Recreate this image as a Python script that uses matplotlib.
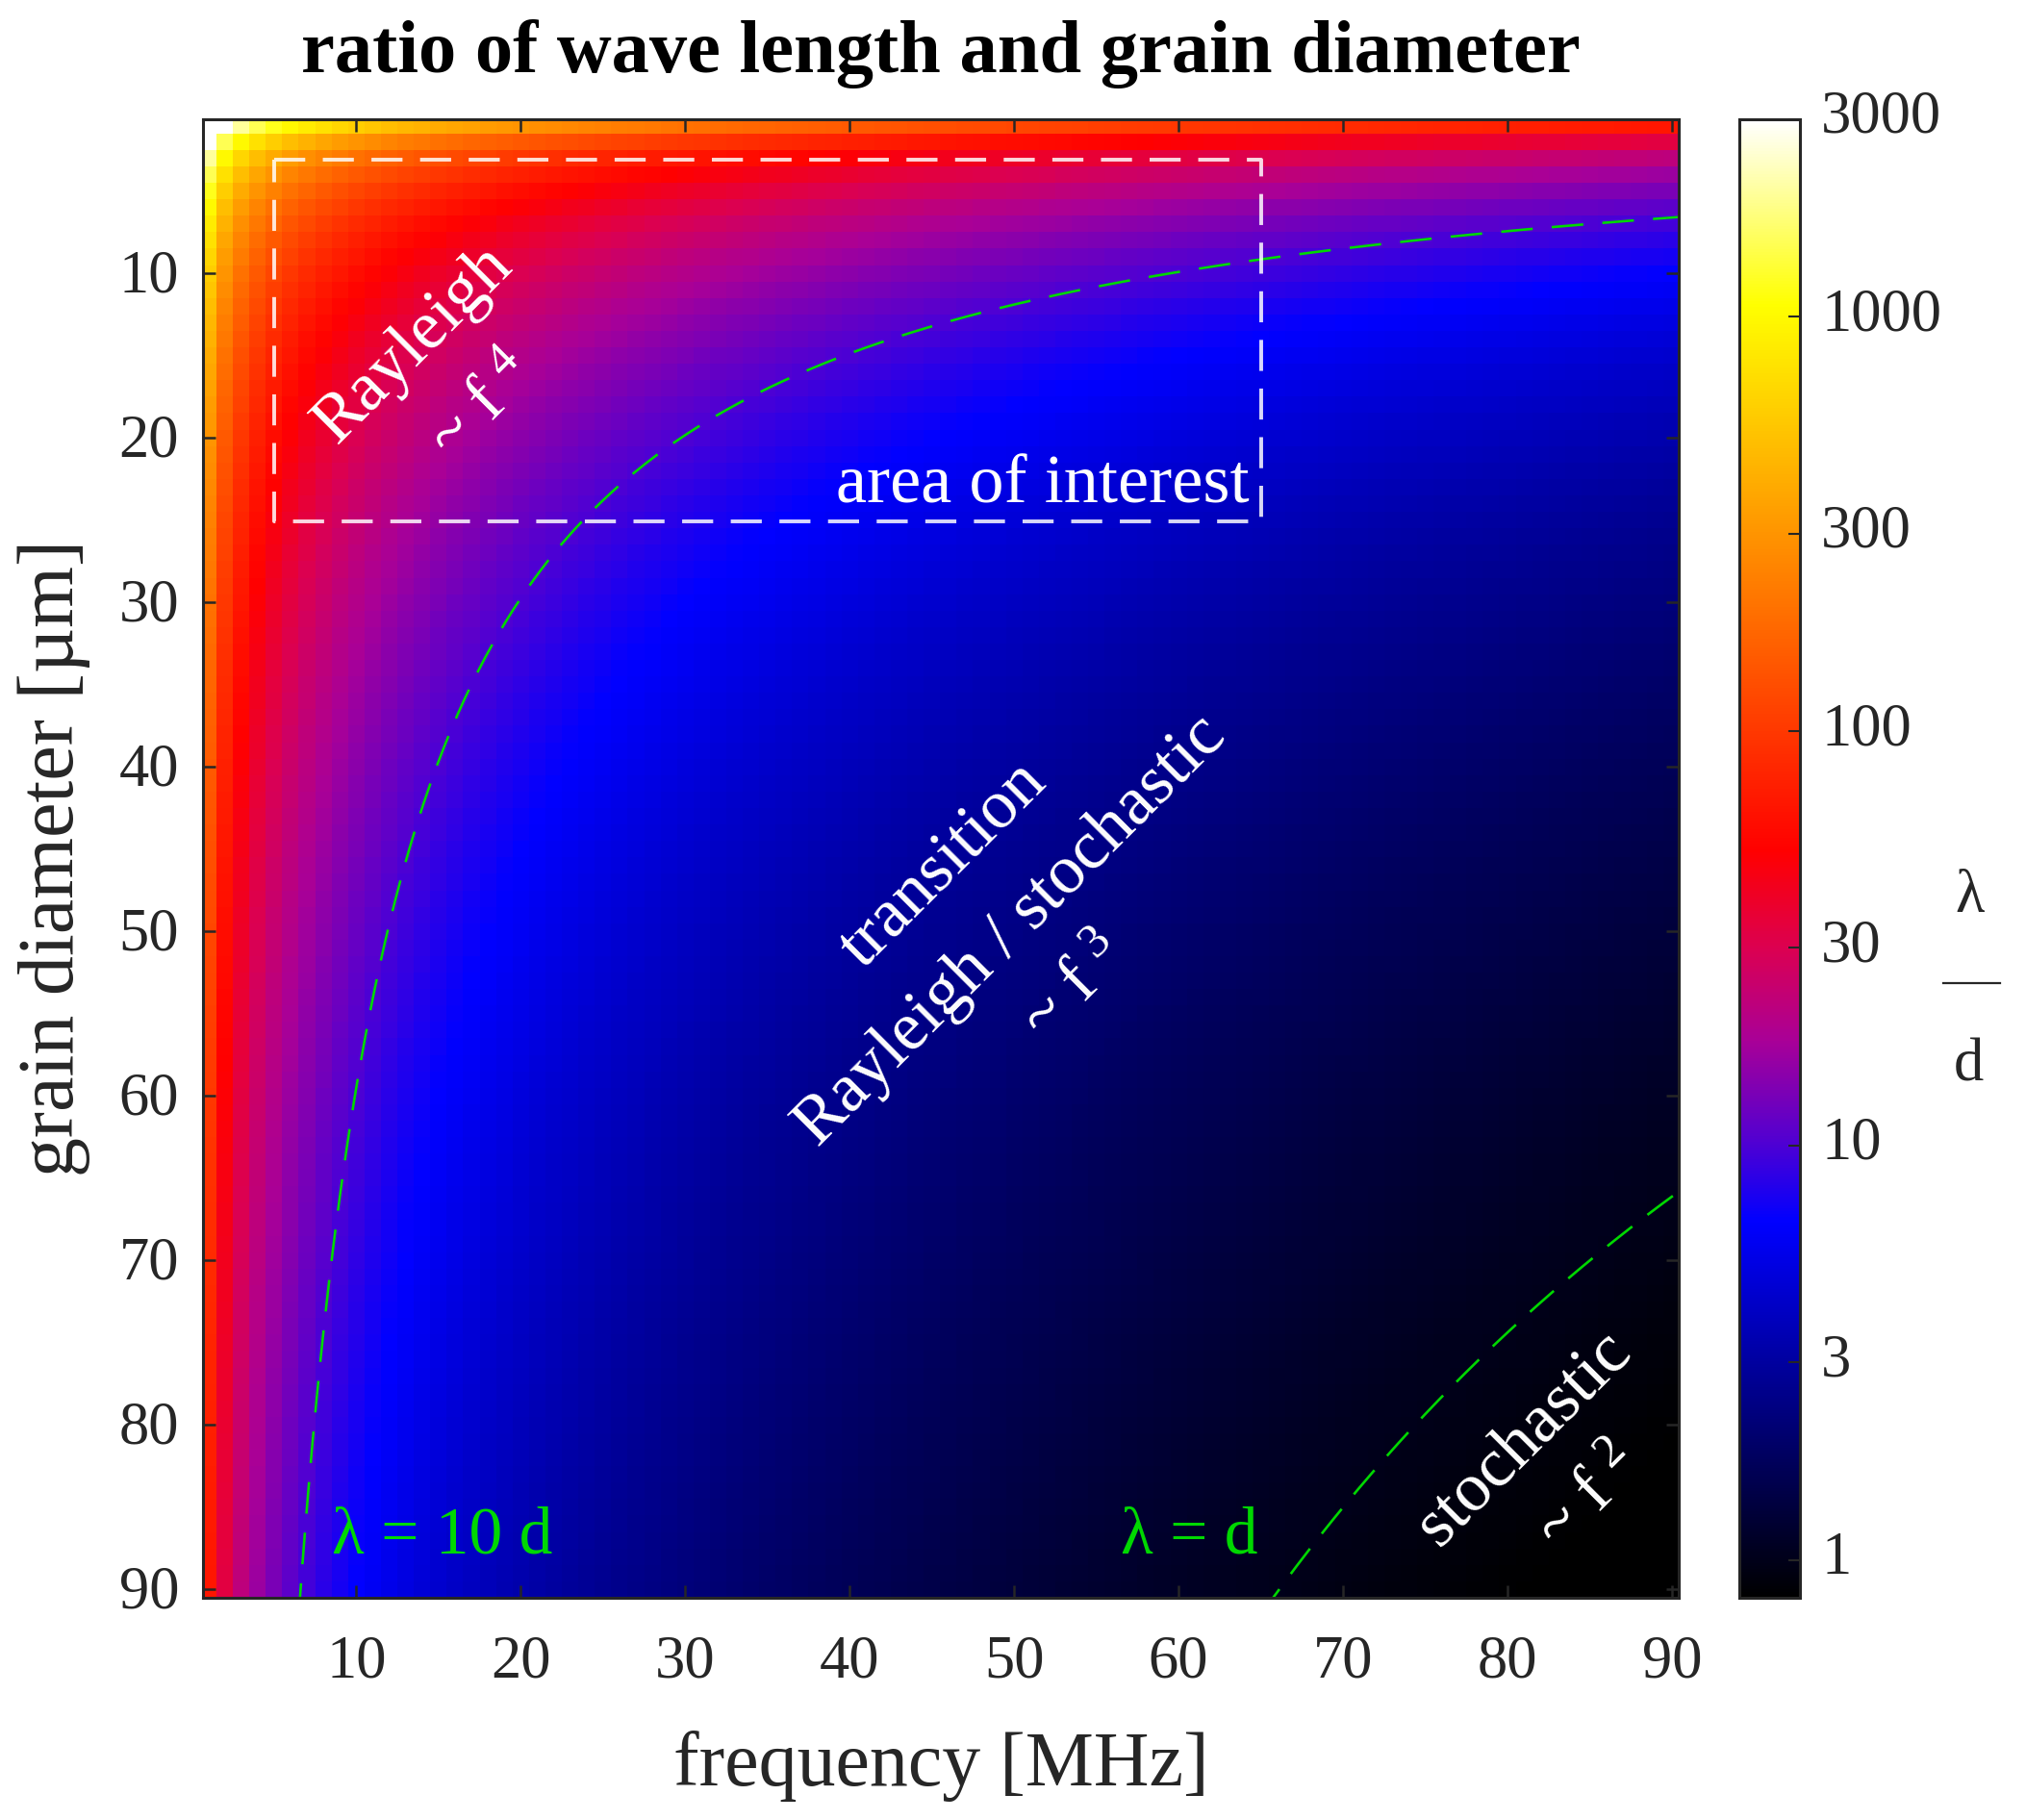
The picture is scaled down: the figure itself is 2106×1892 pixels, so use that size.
import numpy as np
import matplotlib
matplotlib.use("Agg")
import matplotlib.pyplot as plt
from matplotlib.colors import LinearSegmentedColormap, LogNorm
from matplotlib.lines import Line2D
from matplotlib.transforms import ScaledTranslation

###############################################
# Data
###############################################

freq_mhz = np.arange(1, 91)
grain_um = np.arange(1, 91)
sound_speed = 5950.0

curve_ratios = [10, 1]
curve_labels = ["λ = 10 d", "λ = d"]

roi_freq = [5, 65, 65, 5, 5]
roi_grain = [3.1, 3.1, 25.1, 25.1, 3.1]

axis_ticks = [10, 20, 30, 40, 50, 60, 70, 80, 90]
cbar_ticks = [1, 3, 10, 30, 100, 300, 1000, 3000]
cbar_labels = ["1", "3", "10", "30", "100", "300", "1000", "3000"]

# colours, position is the fraction of its height
cmap_stops = [0.0, 0.254, 0.308, 0.378, 0.44, 0.505, 0.875, 1.0]
cmap_colors = ["#000000", "#0000ff", "#5000d2", "#aa0096", "#dc0050",
               "#ff0000", "#ffff00", "#ffffff"]

###############################################
# Config
###############################################

W, H = 2106, 1892
DARK = "#262626"
GREEN = "#00d800"
TICK_SIZE = 45
NOTE_SIZE = 52
GREEN_SIZE = 50

plt.rcParams["font.family"] = ["Liberation Serif", "DejaVu Serif"]
plt.rcParams["mathtext.fontset"] = "custom"
plt.rcParams["mathtext.rm"] = "Liberation Serif"
plt.rcParams["mathtext.default"] = "regular"


def px_box(left, top, right, bottom):
    return [left / W, 1 - bottom / H, (right - left) / W, (bottom - top) / H]


def shift_labels(labels, fig, dy_px):
    offset = ScaledTranslation(0, dy_px / 100, fig.dpi_scale_trans)
    for lab in labels:
        lab.set_transform(lab.get_transform() + offset)


###############################################
# Plot
###############################################

fig = plt.figure(figsize=(W / 100, H / 100), dpi=100)
ax = fig.add_axes(px_box(211, 124, 1745, 1661))
cax = fig.add_axes(px_box(1808, 124, 1871, 1661))

F, D = np.meshgrid(freq_mhz, grain_um)
ratio = sound_speed / (F * D)

cmap = LinearSegmentedColormap.from_list("wave", list(zip(cmap_stops, cmap_colors)), N=512)
norm = LogNorm(vmin=0.81, vmax=3000)
mesh = ax.pcolormesh(F, D, ratio, cmap=cmap, norm=norm, shading="nearest", rasterized=True)

ax.set_xlim(0.68, 90.41)
ax.set_ylim(90.5, 0.64)
ax.set_xticks(axis_ticks)
ax.set_yticks(axis_ticks)
ax.tick_params(direction="in", top=True, right=True, length=9.5, width=1.8,
               color=DARK, labelcolor=DARK, labelsize=TICK_SIZE)
ax.tick_params(axis="x", pad=28)
ax.tick_params(axis="y", pad=18)
shift_labels(ax.get_yticklabels(), fig, 3)
for s in ax.spines.values():
    s.set_linewidth(2.2)
    s.set_color(DARK)

# lambda = 10 d and lambda = d
for r, f_start in zip(curve_ratios, [6.5, 65.0]):
    f_line = np.linspace(f_start, 90.41, 400)
    ax.plot(f_line, sound_speed / (f_line * r), color=GREEN, lw=1.9,
            linestyle=(0, (12.5, 7.5)))

ax.plot(roi_freq, roi_grain, color="white", lw=2.8, alpha=0.85, linestyle=(0, (8.3, 4.7)))

ax.text(64.3, 22.9, "area of interest", color="white", fontsize=NOTE_SIZE, ha="right", va="center")

notes = [
    (13.5, 14.3, "Rayleigh"),
    (17.7, 18.2, "~ f$^{\\ 4}$"),
    (45.7, 46.0, "transition"),
    (49.8, 50.0, "Rayleigh / stochastic"),
    (53.7, 53.5, "~ f$^{\\ 3}$"),
    (81.0, 80.8, "stochastic"),
    (85.0, 84.5, "~ f$^{\\ 2}$"),
]
for x, y, s in notes:
    ax.text(x, y, s, color="white", fontsize=NOTE_SIZE, rotation=45,
            rotation_mode="anchor", ha="center", va="center")

ax.text(8.5, 86.8, curve_labels[0], color=GREEN, fontsize=GREEN_SIZE, ha="left", va="center")
ax.text(56.5, 86.8, curve_labels[1], color=GREEN, fontsize=GREEN_SIZE, ha="left", va="center")

# colorbar
cb = fig.colorbar(mesh, cax=cax)
cb.set_ticks(cbar_ticks, labels=cbar_labels)
cb.minorticks_off()
cax.tick_params(direction="in", length=9, width=1.5, pad=16,
                color=DARK, labelcolor=DARK, labelsize=TICK_SIZE)
shift_labels(cax.get_yticklabels(), fig, 8)
cb.outline.set_linewidth(2.2)
cb.outline.set_edgecolor(DARK)

# fraction next to the colorbar
fig.text(2048 / W, 1 - 933 / H, "λ", color=DARK, fontsize=TICK_SIZE, ha="center", va="center")
fig.add_artist(Line2D([2020 / W, 2079 / W], [1 - 1022 / H, 1 - 1022 / H], color=DARK, lw=1.6))
fig.text(2046 / W, 1 - 1108 / H, "d", color=DARK, fontsize=TICK_SIZE, ha="center", va="center")

fig.text(978 / W, 1 - 56 / H, "ratio of wave length and grain diameter", color="black",
         fontsize=56.5, fontweight="bold", ha="center", va="center")
fig.text(978 / W, 1 - 1836 / H, "frequency [MHz]", color=DARK, fontsize=57.5, ha="center", va="center")
fig.text(56 / W, 1 - 892 / H, "grain diameter [µm]", color=DARK, fontsize=59,
         rotation=90, ha="center", va="center")

fig.savefig("out.png", dpi=100)
